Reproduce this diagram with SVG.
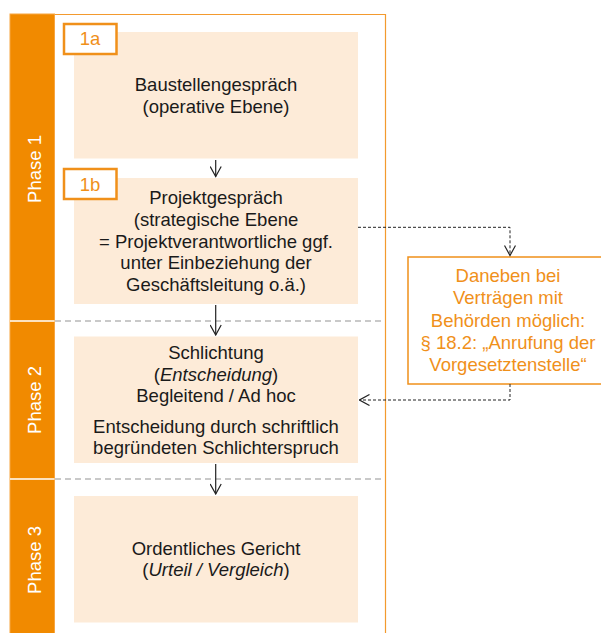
<svg xmlns="http://www.w3.org/2000/svg" width="601" height="633" viewBox="0 0 601 633">
<style>
.t{font-family:"Liberation Sans",Arial,sans-serif;font-size:18.5px;fill:#1a1a1a;text-anchor:middle}
.o{fill:#f0901a}
.w{fill:#ffffff}
.box{fill:#fdebd8}
.lab{fill:#ffffff;stroke:#f0901a;stroke-width:2.5}
.sep{stroke:#b8b8b8;stroke-width:1.5;stroke-dasharray:6 4;fill:none}
.arr{stroke:#222;stroke-width:1.2;fill:none}
.dash{stroke:#222;stroke-width:1;stroke-dasharray:3 2;fill:none}
</style>
<defs>
<marker id="ah" viewBox="0 0 12 12" refX="11" refY="6" markerWidth="12" markerHeight="12" markerUnits="userSpaceOnUse" orient="auto">
<path d="M1,0.5 L11,6 L1,11.5" fill="none" stroke="#222" stroke-width="1.2"/>
</marker>
</defs>
<rect width="601" height="633" fill="#ffffff"/>
<g id="frame">
<path d="M10,14.5 H385.5 V633" fill="none" stroke="#f39a2e" stroke-width="1.2"/>
<rect x="10" y="14" width="44.5" height="620" fill="#f18a00" stroke="#f7a540" stroke-width="1"/>
<line x1="10" y1="321" x2="54.5" y2="321" stroke="#ffffff" stroke-width="1.5"/>
<line x1="10" y1="479" x2="54.5" y2="479" stroke="#ffffff" stroke-width="1.5"/>
<line class="sep" x1="55" y1="321" x2="385" y2="321"/>
<line class="sep" x1="55" y1="479" x2="385" y2="479"/>
<text class="t w" transform="translate(41,169) rotate(-90)">Phase 1</text>
<text class="t w" transform="translate(41,400) rotate(-90)">Phase 2</text>
<text class="t w" transform="translate(41,560) rotate(-90)">Phase 3</text>
</g>
<g id="n1a">
<rect class="box" x="74" y="32" width="284" height="126.5"/>
<rect class="lab" x="64" y="24" width="52.5" height="30"/>
<text class="t o" x="90" y="44.5">1a</text>
<text class="t" x="216" y="91">Baustellengespräch</text>
<text class="t" x="216" y="112.6">(operative Ebene)</text>
</g>
<g id="n1b">
<rect class="box" x="74" y="178" width="284" height="126"/>
<rect class="lab" x="64" y="169" width="52.5" height="30"/>
<text class="t o" x="90" y="191">1b</text>
<text class="t" x="216" y="204.3">Projektgespräch</text>
<text class="t" x="216" y="225.9">(strategische Ebene</text>
<text class="t" x="216" y="247.5">= Projektverantwortliche ggf.</text>
<text class="t" x="216" y="269.1">unter Einbeziehung der</text>
<text class="t" x="216" y="290.7">Geschäftsleitung o.ä.)</text>
</g>
<g id="n2">
<rect class="box" x="74" y="336.5" width="284" height="126.5"/>
<text class="t" x="216" y="359">Schlichtung</text>
<text class="t" x="216" y="380.6">(<tspan font-style="italic">Entscheidung</tspan>)</text>
<text class="t" x="216" y="402">Begleitend / Ad hoc</text>
<text class="t" x="216" y="432.5">Entscheidung durch schriftlich</text>
<text class="t" x="216" y="454">begründeten Schlichterspruch</text>
</g>
<g id="n3">
<rect class="box" x="74" y="496" width="284" height="126.5"/>
<text class="t" x="216" y="554.5">Ordentliches Gericht</text>
<text class="t" x="216" y="576.3">(<tspan font-style="italic">Urteil / Vergleich</tspan>)</text>
</g>
<g id="side">
<rect x="408" y="257" width="200" height="127" fill="#ffffff" stroke="#f0901a" stroke-width="1.5"/>
<text class="t o" x="508" y="282.3">Daneben bei</text>
<text class="t o" x="508" y="304.3">Verträgen mit</text>
<text class="t o" x="508" y="326.5">Behörden möglich:</text>
<text class="t o" x="508" y="348.7">§ 18.2: „Anrufung der</text>
<text class="t o" x="508" y="370.7">Vorgesetztenstelle“</text>
</g>
<g id="connectors">
<line class="arr" x1="215.7" y1="160" x2="215.7" y2="176.5" marker-end="url(#ah)"/>
<line class="arr" x1="215.7" y1="305" x2="215.7" y2="335" marker-end="url(#ah)"/>
<line class="arr" x1="215.7" y1="464" x2="215.7" y2="494" marker-end="url(#ah)"/>
<path class="dash" d="M358,227.3 H510 V255.5" marker-end="url(#ah)"/>
<path class="dash" d="M510,384 V400 H359.5" marker-end="url(#ah)"/>
</g>
</svg>
